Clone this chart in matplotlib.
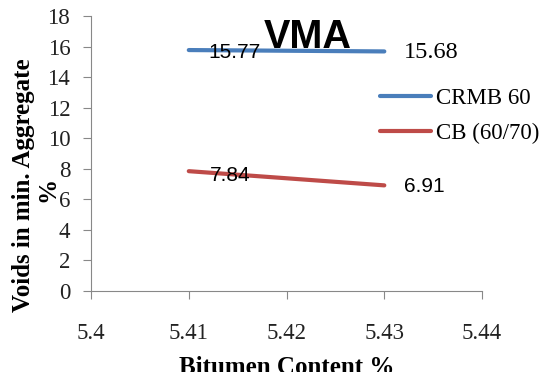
import matplotlib.pyplot as plt

bitumen = [5.41, 5.43]
crmb_60 = [15.77, 15.68]
cb_6070 = [7.84, 6.91]
series_names = ['CRMB 60', 'CB (60/70)']

BLUE = '#4a7ebb'
RED = '#be4b48'
SERIF = 'Liberation Serif'
SANS = 'Liberation Sans'

fig = plt.figure(figsize=(5.5, 3.72), dpi=100)
ax = fig.add_axes([0.1655, 0.218, 0.711, 0.739])

ax.plot(bitumen, crmb_60, color=BLUE, lw=3, label=series_names[0],
        solid_capstyle='round')
ax.plot(bitumen, cb_6070, color=RED, lw=3, label=series_names[1],
        solid_capstyle='round')

ax.set_xlim(5.40, 5.44)
ax.set_ylim(0, 18)
ax.set_xticks([5.40, 5.41, 5.42, 5.43, 5.44])
ax.set_xticklabels(['5.4', '5.41', '5.42', '5.43', '5.44'])
ax.set_yticks(range(0, 19, 2))
for lab in ax.get_xticklabels() + ax.get_yticklabels():
    lab.set_fontfamily(SERIF)
    lab.set_fontsize(16.5)
    lab.set_color('#222222')
ax.tick_params(axis='x', direction='out', length=6, color='#888888', pad=17)
ax.tick_params(axis='y', direction='out', length=6, color='#888888', pad=9)

for side in ['top', 'right']:
    ax.spines[side].set_visible(False)
for side in ['left', 'bottom']:
    ax.spines[side].set_color('#888888')
    ax.spines[side].set_linewidth(0.8)

# data labels
ax.annotate(f'{crmb_60[0]:.2f}', (bitumen[0], crmb_60[0]), xytext=(14, -2),
            textcoords='offset points', va='center', ha='left',
            fontsize=15, family=SANS)
ax.annotate(f'{crmb_60[1]:.2f}', (bitumen[1], crmb_60[1]), xytext=(14, -1),
            textcoords='offset points', va='center', ha='left',
            fontsize=17.5, family=SERIF)
ax.annotate(f'{cb_6070[0]:.2f}', (bitumen[0], cb_6070[0]), xytext=(15, -3),
            textcoords='offset points', va='center', ha='left',
            fontsize=15, family=SANS)
ax.annotate(f'{cb_6070[1]:.2f}', (bitumen[1], cb_6070[1]), xytext=(14, -1),
            textcoords='offset points', va='center', ha='left',
            fontsize=15, family=SANS)

fig.text(0.56, 0.90, 'VMA', ha='center', va='center', fontsize=28.5,
         fontweight='bold', family=SANS)

ax.set_xlabel('Bitumen Content %', fontsize=18, fontweight='bold',
              family=SERIF, labelpad=9)

# y label on two lines, the second one only holding the unit
fig.text(0.042, 0.503, 'Voids in min. Aggregate', rotation=90,
         ha='center', va='center', fontsize=18, fontweight='bold',
         family=SERIF)
fig.text(0.087, 0.49, '%', rotation=90, ha='center', va='center',
         fontsize=18, fontweight='bold', family=SERIF)

leg = ax.legend(loc='center left', bbox_to_anchor=(0.691, 0.6875),
                bbox_transform=fig.transFigure, frameon=False,
                prop={'family': SERIF, 'size': 16.5}, handlelength=2.24,
                handletextpad=0.18, labelspacing=0.62, borderpad=0,
                borderaxespad=0)

fig.savefig('out.png', dpi=100)
